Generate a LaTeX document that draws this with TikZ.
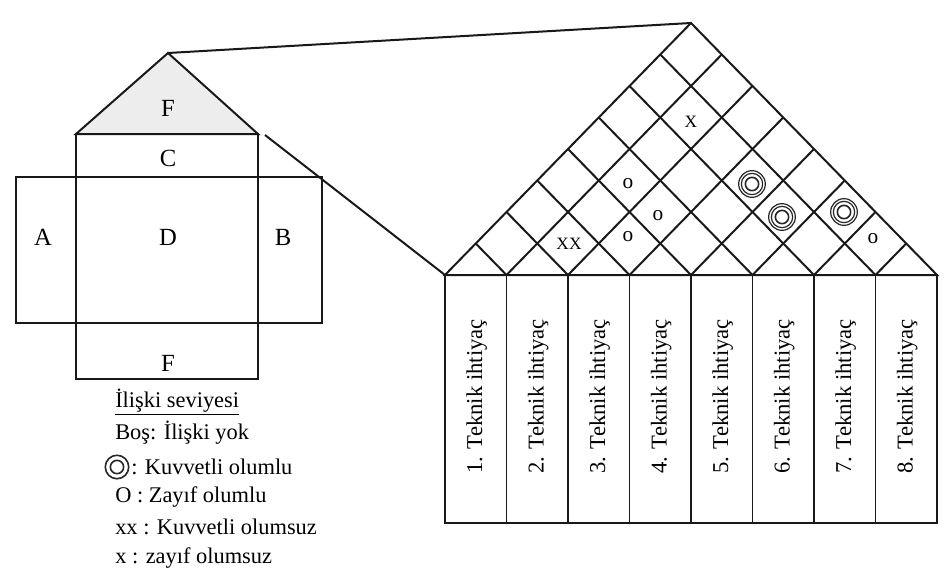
\documentclass[tikz,border=0pt]{standalone}
\usepackage{fontspec}
\setmainfont{Liberation Serif}
\begin{document}
\begin{tikzpicture}[x=0.75pt,y=-0.75pt,
  edge/.style={line width=1.5pt, draw=black!90},
  thinline/.style={line width=1.2pt, draw=black!90},
  lbl/.style={font=\fontsize{18.5}{20}\selectfont, inner sep=0pt},
  leg/.style={font=\fontsize{16.8}{18}\selectfont, anchor=west, inner sep=0pt},
  coltext/.style={font=\fontsize{17}{18}\selectfont, rotate=90, anchor=west, inner sep=0pt},
  xsym/.style={font=\fontsize{13}{15}\selectfont, inner sep=0pt},
  osym/.style={font=\fontsize{16}{18}\selectfont, inner sep=0pt},
  ring/.style={line width=0.9pt, draw=black!85}
]
\useasboundingbox (0,0) rectangle (946,575);

% ---------- small house (overview) ----------
\coordinate (roofL) at (76,134);
\coordinate (roofT) at (168,53);
\coordinate (roofR) at (258,134);
\fill[black!7] (roofL) -- (roofT) -- (roofR) -- cycle;
\draw[edge] (roofL) -- (roofT) -- (roofR) -- cycle;
\draw[thinline] (76,134) rectangle (258,379);
\draw[thinline] (16,177) rectangle (322,323);

\node[lbl] (labE) at (168,108) {F};
\node[lbl] (labC) at (168,158) {C};
\node[lbl] (labA) at (43,237) {A};
\node[lbl] (labD) at (168,237) {D};
\node[lbl] (labB) at (283,237) {B};
\node[lbl] (labF) at (168,363) {F};

% ---------- enlarged roof with correlation lattice ----------
\coordinate (apex) at (691,23);
\foreach \i in {0,...,8} {
  \coordinate (P\i) at ({445+61.5*\i},275);
  \coordinate (Q\i) at ({445+61.5*\i},523);
}
\draw[edge] (P0) -- (apex) -- (P8) -- cycle;
\foreach \i in {1,...,7} {
  \draw[edge] (P\i) -- ({445+30.75*(\i+8)},{275-31.5*(8-\i)});
  \draw[edge] (P\i) -- ({445+30.75*\i},{275-31.5*\i});
}

% columns of technical requirements
\draw[thinline] (P0) rectangle (Q8);
\foreach \i in {1,...,7} \draw[thinline] (P\i) -- (Q\i);
\foreach \k in {1,...,8}
  \node[coltext] (col\k) at ({445+61.5*(\k-0.5)+1},474) {\k. Teknik ihtiyaç};

% projection lines from the small roof to the enlarged roof
\coordinate (projA) at (265,135);
\draw[edge] (roofT) -- (apex);
\draw[edge] (projA) -- (P0);

% correlation symbols
\node[xsym] (s27) at (691,122) {X};
\node[xsym] (s23) at (569,244) {XX};
\node[osym] (s25) at (628,184) {o};
\node[osym] (s35) at (658,216) {o};
\node[osym] (s34) at (628,237) {o};
\node[osym] (s78) at (873,239) {o};
\foreach \cx/\cy in {752/184, 782/217, 844/212} {
  \draw[ring] (\cx,\cy) circle[radius=10pt];
  \draw[ring] (\cx,\cy) circle[radius=8pt];
  \draw[ring, line width=1.2pt] (\cx,\cy) circle[radius=5pt];
}

% ---------- legend ----------
\node[leg] (legT) at (115,402) {\underline{İlişki seviyesi}};
\node[leg] (leg0) at (115,433) {Boş: İlişki yok};
\draw[ring, line width=1.2pt] (117,467) circle[radius=8.8pt];
\draw[ring, line width=1.2pt] (117,467) circle[radius=5pt];
\node[leg] (leg1) at (131,467) {: Kuvvetli olumlu};
\node[leg] (leg2) at (115,497) {O : Zayıf olumlu};
\node[leg] (leg3) at (115,527) {xx : Kuvvetli olumsuz};
\node[leg] (leg4) at (115,558) {x : zayıf olumsuz};
\end{tikzpicture}
\end{document}
